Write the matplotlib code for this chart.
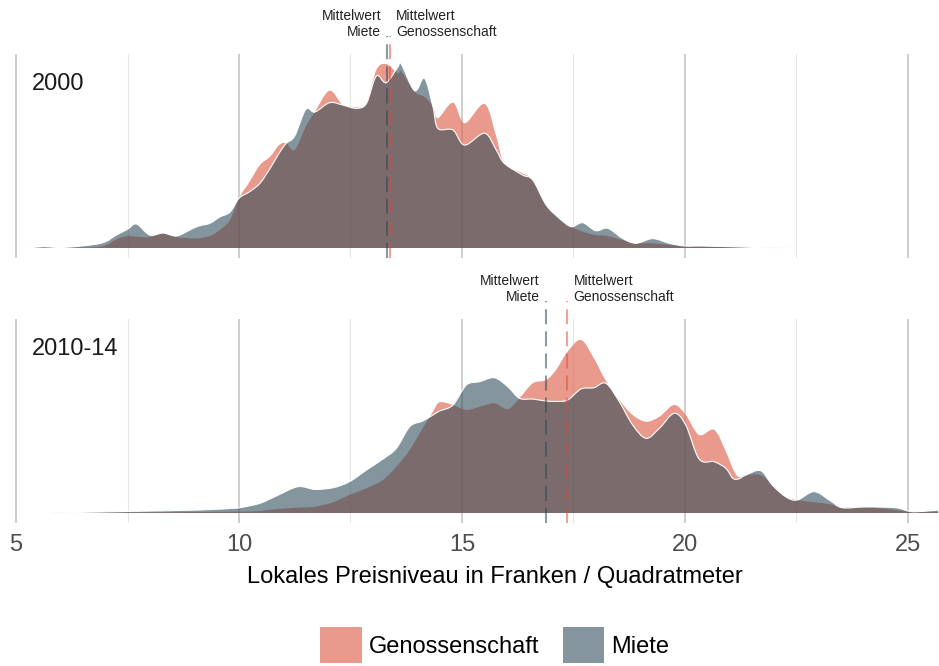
import matplotlib.pyplot as plt
import numpy as np
from matplotlib.patches import Patch, PathPatch
from matplotlib.path import Path

plt.rcParams['font.family'] = ['Liberation Sans', 'DejaVu Sans']

# Dichte (in % pro Franken)
# Periode 2000
x_2000 = [5.3, 5.6, 6.1, 6.9, 7.25, 7.5, 7.7, 8.0, 8.3, 8.6, 8.9, 9.1, 9.35, 9.57, 9.8,
          10.0, 10.24, 10.47, 10.7, 10.9, 11.06, 11.25, 11.5, 11.7, 12.03, 12.33, 12.63,
          12.86, 13.08, 13.3, 13.56, 13.64, 13.94, 14.16, 14.35, 14.46, 14.8, 15.06, 15.51,
          15.77, 15.95, 16.36, 16.59, 16.89, 17.19, 17.45, 17.71, 18.0, 18.27, 18.6, 18.9,
          19.28, 19.65, 20.0, 20.4, 21.3, 21.7, 22.5]
gen_2000 = [0, 0.05, 0.05, 0.12, 0.79, 1.09, 1.03, 1.0, 1.36, 1.0, 0.88, 0.88, 1.09, 1.64, 2.55,
            4.52, 6.03, 7.55, 8.3, 9.36, 9.52, 8.91, 11.03, 12.36, 14.3, 13.0, 12.79,
            13.15, 16.18, 16.73, 15.88, 16.03, 14.21, 13.75, 12.85, 11.79, 13.21, 11.34, 13.09,
            10.12, 7.7, 6.79, 6.18, 3.91, 2.55, 1.94, 1.48, 1.18, 1.09, 0.73, 0.43,
            0.43, 0.27, 0.18, 0.14, 0.05, 0, 0]
miete_2000 = [0, 0.12, 0.06, 0.43, 1.18, 1.7, 2.18, 1.18, 1.36, 1.09, 1.64, 2.0, 2.25, 2.82, 3.27,
              4.52, 5.12, 5.88, 7.25, 8.61, 9.52, 10.18, 12.61, 12.36, 13.21, 13.0, 12.7,
              13.15, 15.64, 15.03, 16.43, 16.73, 14.3, 15.43, 12.85, 10.88, 10.73, 9.36, 10.43,
              8.91, 7.7, 6.64, 6.18, 3.91, 2.7, 1.94, 2.3, 1.57, 1.79, 0.88, 0.43,
              0.85, 0.43, 0.18, 0.18, 0.09, 0.03, 0]

# Periode 2010-14
x_2010 = [5.8, 6.1, 7.6, 9.1, 9.87, 10.02, 10.47, 10.84, 11.32, 11.7, 12.11, 12.48, 12.86,
          13.23, 13.53, 13.83, 14.12, 14.35, 14.5, 14.8, 15.1, 15.4, 15.73, 16.03, 16.29,
          16.59, 16.89, 17.11, 17.37, 17.67, 17.96, 18.23, 18.53, 18.83, 19.13, 19.43, 19.76,
          20.02, 20.32, 20.66, 20.92, 21.07, 21.2, 21.37, 21.7, 21.96, 22.26, 22.52, 22.9,
          23.27, 23.53, 24.06, 24.73, 25.1, 25.68]
gen_2010 = [0, 0.01, 0.05, 0.09, 0.12, 0.12, 0.18, 0.36, 0.48, 0.57, 0.97, 1.64, 2.25,
            3.0, 4.21, 5.73, 7.7, 9.21, 10.06, 9.82, 9.36, 9.66, 9.97, 9.45, 10.43,
            11.79, 12.09, 13.0, 14.66, 15.73, 14.06, 12.0, 10.27, 8.91, 8.3, 8.75, 9.82,
            8.91, 7.09, 7.55, 5.57, 4.09, 3.27, 3.45, 3.45, 2.55, 1.48, 1.18, 0.97,
            0.79, 0.48, 0.55, 0.27, 0.12, 0.09]
miete_2010 = [0, 0.03, 0.15, 0.27, 0.43, 0.48, 0.88, 1.55, 2.39, 2.15, 2.3, 2.85, 3.91,
              4.91, 5.88, 7.85, 8.36, 8.91, 9.27, 9.82, 11.64, 11.94, 12.3, 11.48, 10.43,
              10.36, 10.18, 10.15, 10.27, 11.27, 11.39, 11.79, 10.12, 8.0, 6.79, 7.7, 9.06,
              8.0, 4.91, 4.66, 4.06, 3.18, 3.09, 3.45, 3.85, 2.55, 1.48, 1.18, 1.94,
              1.09, 0.48, 0.55, 0.48, 0.12, 0.27]

perioden = ['2000', '2010-14']
mittel_miete = [13.33, 16.88]
mittel_gen = [13.39, 17.36]

c_gen = '#E16F5C'
a_gen = 0.7
c_miete = '#2C4956'
a_miete = 0.58


def kurve(x, y):
    p = np.column_stack([x, y])
    n = len(p)
    verts = [p[0]]
    codes = [Path.MOVETO]
    for i in range(n - 1):
        p0 = p[max(i - 1, 0)]
        p1 = p[i]
        p2 = p[i + 1]
        p3 = p[min(i + 2, n - 1)]
        verts += [p1 + (p2 - p0) / 6, p2 - (p3 - p1) / 6, p2]
        codes += [Path.CURVE4] * 3
    return verts, codes


def flaeche(x, y):
    verts, codes = kurve(x, y)
    verts = [(x[0], 0)] + verts + [(x[-1], 0), (x[0], 0)]
    codes = [Path.MOVETO, Path.LINETO] + codes[1:] + [Path.LINETO, Path.CLOSEPOLY]
    return Path(verts, codes)


fig = plt.figure(figsize=(9.39, 6.66), dpi=100)
ax1 = fig.add_axes([0.0147, 0.6126, 0.9853, 0.3063])
ax2 = fig.add_axes([0.0147, 0.2147, 0.9853, 0.3063])

daten = [(x_2000, gen_2000, miete_2000), (x_2010, gen_2010, miete_2010)]

for i, ax in enumerate([ax1, ax2]):
    x, g, m = daten[i]

    # Gitterlinien unter den halbtransparenten Flächen
    for v in [5, 10, 15, 20, 25]:
        ax.axvline(v, color='#c6c6c6', lw=1.2, zorder=1)
    for v in [7.5, 12.5, 17.5, 22.5]:
        ax.axvline(v, color='#e6e6e6', lw=0.8, zorder=1)

    ax.add_patch(PathPatch(flaeche(x, g), facecolor=c_gen, alpha=a_gen, lw=0, zorder=2))
    ax.add_patch(PathPatch(flaeche(x, m), facecolor=c_miete, alpha=a_miete, lw=0, zorder=3))
    v, c = kurve(x, m)
    ax.add_patch(PathPatch(Path(v, c), facecolor='none', edgecolor='white', lw=0.8, zorder=4))

    ax.set_xlim(4.95, 25.7)
    ax.set_ylim(-0.91, 17.64)
    ax.set_yticks([])
    for s in ax.spines.values():
        s.set_visible(False)

    # Mittelwerte
    ax.plot([mittel_miete[i]] * 2, [-0.91, 19.3], color=c_miete, alpha=0.55, lw=1.5,
            dashes=(7.2, 3.4), clip_on=False, zorder=6)
    ax.plot([mittel_gen[i]] * 2, [-0.91, 19.3], color='#E0473A', alpha=0.5, lw=1.5,
            dashes=(7.2, 3.4), clip_on=False, zorder=6)
    ax.annotate('Mittelwert\nMiete', (mittel_miete[i], 19.0), xytext=(-4.5, 0),
                textcoords='offset points', ha='right', va='bottom', fontsize=10,
                color='#222222', annotation_clip=False, linespacing=1.2)
    ax.annotate('Mittelwert\nGenossenschaft', (mittel_gen[i], 19.0), xytext=(4.5, 0),
                textcoords='offset points', ha='left', va='bottom', fontsize=10,
                color='#222222', annotation_clip=False, linespacing=1.2)

    ax.text(0.0195, 0.855, perioden[i], transform=ax.transAxes, fontsize=17,
            ha='left', va='center', color='#1a1a1a')

ax1.set_xticks([])
ax2.set_xticks([5, 10, 15, 20, 25])
ax2.set_xticklabels(['5', '10', '15', '20', '25'])
ax2.tick_params(axis='x', length=0, labelsize=17, labelcolor='#4d4d4d', pad=8)

fig.text(495 / 939, 1 - 577 / 666, 'Lokales Preisniveau in Franken / Quadratmeter',
         ha='center', va='center', fontsize=17, color='black')

handles = [Patch(facecolor=c_gen, alpha=a_gen, lw=0, label='Genossenschaft'),
           Patch(facecolor=c_miete, alpha=a_miete, lw=0, label='Miete')]
fig.legend(handles=handles, loc='upper center', bbox_to_anchor=(0.527, 1 - 627 / 666),
           ncol=2, frameon=False, fontsize=17, handlelength=1.75, handleheight=2.0,
           handletextpad=0.3, columnspacing=1.0, borderpad=0, borderaxespad=0)

fig.savefig('out.png', dpi=100)
